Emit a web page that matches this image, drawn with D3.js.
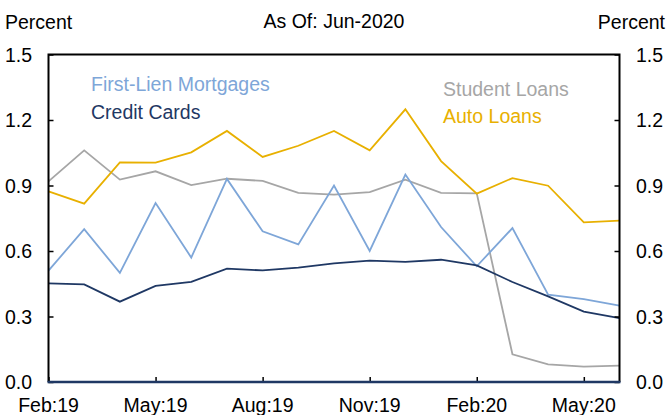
<!DOCTYPE html>
<html>
<head>
<meta charset="utf-8">
<script src="https://cdn.jsdelivr.net/npm/d3@7"></script>
<style>
  body { margin: 0; background: #fff; }
  svg text { font-family: "Liberation Sans", Arial, sans-serif; }
</style>
</head>
<body>
<div id="chart"></div>
<script>
// months shown on the x axis, Feb:19 .. Jun:20
var months = ["Feb:19", "Mar:19", "Apr:19", "May:19", "Jun:19", "Jul:19", "Aug:19", "Sep:19",
              "Oct:19", "Nov:19", "Dec:19", "Jan:20", "Feb:20", "Mar:20", "Apr:20", "May:20", "Jun:20"];
var tickMonths = ["Feb:19", "May:19", "Aug:19", "Nov:19", "Feb:20", "May:20"];
var yTicks = [0, 0.3, 0.6, 0.9, 1.2, 1.5];

var mortgages   = [0.51, 0.70, 0.50, 0.82, 0.57, 0.93, 0.69, 0.63, 0.90, 0.60, 0.95, 0.71, 0.53, 0.705, 0.40, 0.38, 0.35];
var creditCards = [0.452, 0.447, 0.368, 0.44, 0.459, 0.519, 0.511, 0.524, 0.543, 0.556, 0.55, 0.56, 0.534, 0.458, 0.392, 0.322, 0.293];
var studentLoans = [0.919, 1.061, 0.927, 0.965, 0.902, 0.931, 0.921, 0.866, 0.858, 0.87, 0.927, 0.866, 0.864, 0.127, 0.081, 0.07, 0.075];
var autoLoans   = [0.873, 0.817, 1.006, 1.005, 1.052, 1.15, 1.031, 1.082, 1.15, 1.061, 1.249, 1.012, 0.863, 0.934, 0.899, 0.731, 0.739];

var series = [
  {name: "Student Loans",        values: studentLoans, color: "#a6a6a6", lx: 443, ly: 96},
  {name: "Auto Loans",           values: autoLoans,    color: "#e8b000", lx: 443, ly: 123},
  {name: "First-Lien Mortgages", values: mortgages,    color: "#7ea6d8", lx: 91,  ly: 91},
  {name: "Credit Cards",         values: creditCards,  color: "#1f3864", lx: 91,  ly: 119}
];

var W = 668, H = 415;
var FS = 19.5;
var margin = {top: 54.5, right: 48.5, bottom: 33, left: 48.5};

var svg = d3.select("#chart").append("svg")
    .attr("width", W)
    .attr("height", H);

var x = d3.scalePoint().domain(months).range([margin.left, W - margin.right]);
var y = d3.scaleLinear().domain([0, 1.5]).range([H - margin.bottom, margin.top]);

// Titles
svg.append("text").attr("x", 5).attr("y", 29).attr("font-size", FS).text("Percent");
svg.append("text").attr("x", W - 3).attr("y", 29).attr("font-size", FS)
    .attr("text-anchor", "end").text("Percent");
svg.append("text").attr("x", W / 2).attr("y", 27.5).attr("font-size", FS)
    .attr("text-anchor", "middle").text("As Of: Jun-2020");

// Lines
var line = d3.line()
    .x(function(d, i) { return x(months[i]); })
    .y(function(d) { return y(d); });

series.forEach(function(s) {
  svg.append("path")
      .datum(s.values)
      .attr("fill", "none")
      .attr("stroke", s.color)
      .attr("stroke-width", 1.8)
      .attr("stroke-linejoin", "miter")
      .attr("d", line);

  svg.append("text")
      .attr("x", s.lx)
      .attr("y", s.ly)
      .attr("font-size", FS)
      .attr("fill", s.color)
      .text(s.name);
});

// Axes (ticks point inward)
var fmt = d3.format(".1f");

var left = svg.append("g")
    .attr("transform", "translate(" + margin.left + ",0)")
    .call(d3.axisRight(y).tickValues(yTicks).tickSize(5).tickFormat(""));
left.select(".domain").remove();

var right = svg.append("g")
    .attr("transform", "translate(" + (W - margin.right) + ",0)")
    .call(d3.axisLeft(y).tickValues(yTicks).tickSize(5).tickFormat(""));
right.select(".domain").remove();

svg.selectAll(".tick line").attr("stroke", "#000").attr("stroke-width", 1.5);

yTicks.forEach(function(v) {
  svg.append("text").attr("x", 5).attr("y", y(v)).attr("dy", "0.36em")
      .attr("font-size", FS).text(fmt(v));
  svg.append("text").attr("x", 636).attr("y", y(v)).attr("dy", "0.36em")
      .attr("font-size", FS).text(fmt(v));
});

var bottom = svg.append("g")
    .attr("transform", "translate(0," + (H - margin.bottom) + ")")
    .call(d3.axisTop(x).tickValues(tickMonths).tickSize(5).tickFormat(""));
bottom.select(".domain").remove();
bottom.selectAll(".tick line").attr("stroke", "#000").attr("stroke-width", 1.5);

tickMonths.forEach(function(m) {
  svg.append("text").attr("x", x(m)).attr("y", H - 3.5)
      .attr("text-anchor", "middle").attr("font-size", FS).text(m);
});

// Frame
var x0 = margin.left, x1 = W - margin.right, y0 = margin.top, y1 = H - margin.bottom;
svg.append("path")
    .attr("d", "M" + x0 + "," + y1 + "V" + y0 + "H" + x1 + "V" + y1)
    .attr("fill", "none").attr("stroke", "#000").attr("stroke-width", 2);
svg.append("line")
    .attr("x1", x0 - 1).attr("x2", x1 + 1).attr("y1", y1).attr("y2", y1)
    .attr("stroke", "#1f3864").attr("stroke-width", 2.5);
</script>
</body>
</html>
